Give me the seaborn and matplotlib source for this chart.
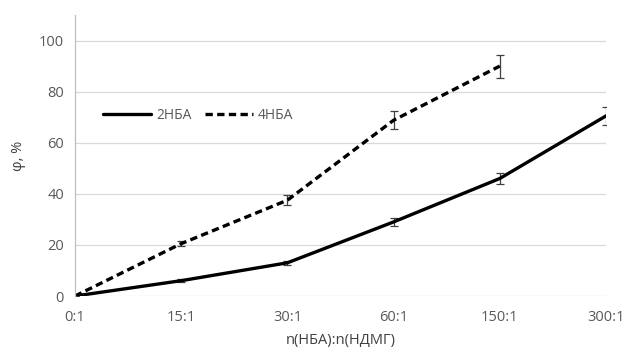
import matplotlib
matplotlib.use("Agg")
import matplotlib.pyplot as plt
import seaborn as sns
import pandas as pd
import numpy as np

categories = ["0:1", "15:1", "30:1", "60:1", "150:1", "300:1"]
nba2_vals = [0, 6, 13, 29, 46, 70.5]
nba2_err = [0, 0.5, 0.8, 1.5, 2.2, 3.5]
nba4_cats = ["0:1", "15:1", "30:1", "60:1", "150:1"]
nba4_vals = [0, 20.5, 37.5, 68.8, 90]
nba4_err = [0, 1.0, 2.0, 3.5, 4.5]
yticks = [0, 20, 40, 60, 80, 100]

sns.set_theme(style="white")
plt.rcParams['font.family'] = ['Open Sans', 'DejaVu Sans']

fig = plt.figure(figsize=(6.26, 3.54), dpi=100)
ax = fig.add_axes([0.1198, 0.1638, 0.968 - 0.1198, 0.9576 - 0.1638])

pos = {c: i for i, c in enumerate(categories)}
df = pd.concat([
    pd.DataFrame({"x": [pos[c] for c in categories], "y": nba2_vals, "s": "2НБА"}),
    pd.DataFrame({"x": [pos[c] for c in nba4_cats], "y": nba4_vals, "s": "4НБА"}),
])

sns.lineplot(data=df, x="x", y="y", hue="s", style="s",
             palette={"2НБА": "black", "4НБА": "black"},
             dashes={"2НБА": "", "4НБА": (2.2, 1.3)},
             linewidth=2.4, ax=ax, legend=True)

ax.errorbar([pos[c] for c in categories], nba2_vals, yerr=nba2_err, fmt="none",
            ecolor="#404040", elinewidth=0.9, capsize=3, capthick=0.9, zorder=1)
ax.errorbar([pos[c] for c in nba4_cats], nba4_vals, yerr=nba4_err, fmt="none",
            ecolor="#404040", elinewidth=0.9, capsize=3, capthick=0.9, zorder=1)

ax.set_xlim(0, len(categories) - 1)
ax.set_ylim(0, 110)
ax.set_xticks(range(len(categories)))
ax.set_xticklabels(categories)
ax.set_yticks(yticks)
ax.yaxis.grid(True, color="#d9d9d9", linewidth=0.9)
ax.set_axisbelow(True)
for s in ["top", "right", "bottom"]:
    ax.spines[s].set_visible(False)
ax.spines["left"].set_color("#bfbfbf")
ax.spines["left"].set_linewidth(0.9)
ax.tick_params(axis="both", length=0, labelsize=10.5, colors="#595959", pad=8)
ax.tick_params(axis="x", pad=10)

ax.set_xlabel("n(НБА):n(НДМГ)", fontsize=10.5, color="#404040", labelpad=6)
ax.set_ylabel("φ, %", fontsize=10.5, color="#404040", labelpad=9)

leg = ax.legend(loc="center left", bbox_to_anchor=(0.03, 0.644), ncol=2,
                frameon=False, fontsize=10, handlelength=3.4, columnspacing=1.0,
                handletextpad=0.4)
for t in leg.get_texts():
    t.set_color("#595959")

fig.savefig("out.png", dpi=100)
